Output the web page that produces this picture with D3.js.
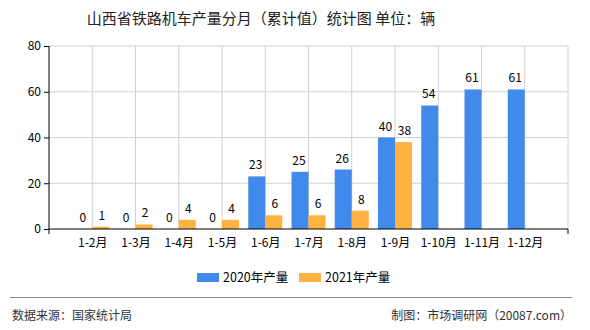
<!DOCTYPE html>
<html>
<head>
<meta charset="utf-8">
<script src="https://cdn.jsdelivr.net/npm/d3@7"></script>
<style>
  body { margin: 0; background: #fff; }
  text { font-family: "Noto Sans CJK SC", "DejaVu Sans", sans-serif; }
</style>
</head>
<body>
<script>
const w = 590;
const h = 330;

const categories = ["1-2月", "1-3月", "1-4月", "1-5月", "1-6月", "1-7月", "1-8月", "1-9月", "1-10月", "1-11月", "1-12月"];
const values2020 = [0, 0, 0, 0, 23, 25, 26, 40, 54, 61, 61];
const values2021 = [1, 2, 4, 4, 6, 6, 8, 38, null, null, null];
const yTicks = [0, 20, 40, 60, 80];
const seriesNames = ["2020年产量", "2021年产量"];
const colors = ["#418aec", "#fdb241"];

const plotLeft = 49, plotRight = 568, plotTop = 46, plotBottom = 229;
const barW = 17;

const svg = d3.select("body").append("svg").attr("width", w).attr("height", h);

// title
svg.append("text")
  .attr("x", 261)
  .attr("y", 24)
  .attr("text-anchor", "middle")
  .style("font-size", "15px")
  .style("fill", "#222")
  .text("山西省铁路机车产量分月（累计值）统计图 单位：辆");

// scales
const xScale = d3.scalePoint().domain(categories).range([plotLeft, plotRight]).padding(1);
const yScale = d3.scaleLinear().domain([0, 80]).range([plotBottom, plotTop]);

// grid
svg.append("g")
  .selectAll("line")
  .data(yTicks.slice(1))
  .enter()
  .append("line")
  .attr("x1", plotLeft)
  .attr("x2", plotRight)
  .attr("y1", (d) => yScale(d))
  .attr("y2", (d) => yScale(d))
  .style("stroke", "#d0d0d0");

svg.append("g")
  .selectAll("line")
  .data(categories)
  .enter()
  .append("line")
  .attr("x1", (d) => xScale(d))
  .attr("x2", (d) => xScale(d))
  .attr("y1", plotTop)
  .attr("y2", plotBottom)
  .style("stroke", "#d0d0d0");

svg.append("line")
  .attr("x1", plotRight).attr("x2", plotRight)
  .attr("y1", plotTop).attr("y2", plotBottom)
  .style("stroke", "#d0d0d0");

// bars
const series = [values2020, values2021];
series.forEach((vals, s) => {
  const data = categories.map((c, i) => ({ c: c, v: vals[i] })).filter((d) => d.v !== null);
  svg.append("g")
    .selectAll("rect")
    .data(data)
    .enter()
    .append("rect")
    .attr("x", (d) => xScale(d.c) + (s === 0 ? -barW : 0))
    .attr("y", (d) => yScale(d.v))
    .attr("width", barW)
    .attr("height", (d) => plotBottom - yScale(d.v))
    .style("fill", colors[s]);

  svg.append("g")
    .selectAll("text")
    .data(data)
    .enter()
    .append("text")
    .attr("x", (d) => xScale(d.c) + (s === 0 ? -barW / 2 - 1 : barW / 2 + 1))
    .attr("y", (d) => yScale(d.v) - 7)
    .attr("text-anchor", "middle")
    .style("font-size", "12px")
    .style("fill", "#000")
    .text((d) => d.v);
});

// axes
const xAxis = d3.axisBottom(xScale).tickSize(0).tickPadding(9);
const yAxis = d3.axisLeft(yScale).tickValues(yTicks).tickSize(5).tickPadding(3);

const gx = svg.append("g")
  .attr("transform", "translate(0," + plotBottom + ")")
  .call(xAxis);
gx.select(".domain").attr("d", "M" + plotLeft + ",0H" + plotRight).style("stroke", "#000");
gx.append("line").attr("x1", plotLeft).attr("x2", plotLeft).attr("y1", 0).attr("y2", 5).style("stroke", "#000");
gx.append("line").attr("x1", plotRight).attr("x2", plotRight).attr("y1", 0).attr("y2", 5).style("stroke", "#000");
gx.selectAll(".tick text").style("font-size", "12px").style("fill", "#000").attr("font-family", null);

const gy = svg.append("g")
  .attr("transform", "translate(" + plotLeft + ",0)")
  .call(yAxis);
gy.select(".domain").attr("d", "M0," + plotTop + "V" + plotBottom).style("stroke", "#000");
gy.selectAll(".tick text").style("font-size", "12px").style("fill", "#000").attr("font-family", null);

// legend
const legendX = [197, 299];
seriesNames.forEach((name, i) => {
  svg.append("rect")
    .attr("x", legendX[i])
    .attr("y", 273)
    .attr("width", 22)
    .attr("height", 9)
    .style("fill", colors[i]);
  svg.append("text")
    .attr("x", legendX[i] + 26)
    .attr("y", 282)
    .style("font-size", "12.5px")
    .style("fill", "#000")
    .text(name);
});

// footer
svg.append("line")
  .attr("x1", 10).attr("x2", 572)
  .attr("y1", 297.5).attr("y2", 297.5)
  .style("stroke", "#888");
svg.append("text")
  .attr("x", 12)
  .attr("y", 320)
  .style("font-size", "12px")
  .style("fill", "#333")
  .text("数据来源：国家统计局");
svg.append("text")
  .attr("x", 572)
  .attr("y", 320)
  .attr("text-anchor", "end")
  .style("font-size", "12px")
  .style("fill", "#333")
  .text("制图：市场调研网（20087.com）");
</script>
</body>
</html>
